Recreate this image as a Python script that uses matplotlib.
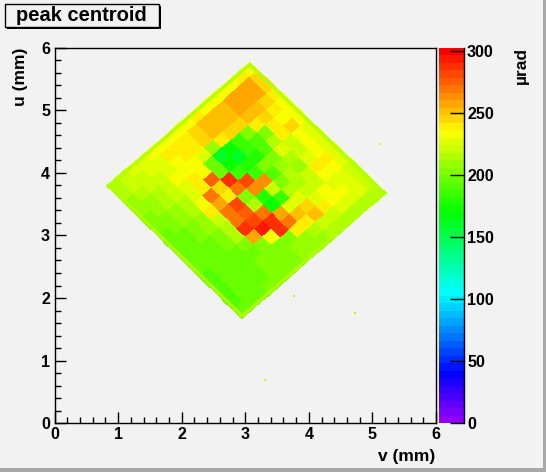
"""Peak centroid map of the crystal, drawn like a ROOT COLZ histogram."""

import colorsys

import matplotlib
matplotlib.use("Agg")
import matplotlib.pyplot as plt
import numpy as np
from matplotlib.colors import BoundaryNorm, ListedColormap
from matplotlib.patches import Polygon, Rectangle
from matplotlib.ticker import MultipleLocator

# sample corners (v, u) in mm: top, right, bottom, left
CORNER_V = [3.07, 5.21, 2.95, 0.83]
CORNER_U = [5.76, 3.68, 1.68, 3.79]

# peak centroid in µrad on a 16x16 grid in the crystal frame:
# rows go from the top-right face to the bottom-left face,
# columns from the top-left face to the bottom-right face
CENTROID = [
    [232, 248, 245, 240, 236, 232, 231, 229, 228, 227, 225, 225, 223, 221, 218, 214],
    [240, 255, 255, 247, 242, 236, 247, 231, 231, 231, 242, 231, 229, 225, 224, 217],
    [236, 255, 255, 252, 245, 238, 240, 221, 221, 225, 240, 235, 228, 231, 225, 217],
    [235, 255, 255, 252, 242, 205, 212, 228, 215, 211, 218, 221, 231, 233, 225, 214],
    [236, 252, 250, 246, 200, 190, 192, 203, 208, 213, 213, 218, 228, 237, 218, 212],
    [235, 250, 251, 246, 185, 182, 180, 200, 190, 200, 214, 228, 247, 252, 220, 212],
    [240, 251, 249, 238, 175, 160, 180, 185, 265, 222, 185, 228, 252, 242, 214, 210],
    [236, 247, 244, 210, 162, 170, 185, 280, 265, 180, 175, 257, 272, 242, 207, 207],
    [236, 242, 240, 230, 198, 195, 285, 272, 200, 215, 267, 290, 287, 202, 206, 206],
    [236, 240, 238, 236, 235, 277, 247, 238, 282, 277, 282, 294, 232, 200, 205, 205],
    [232, 238, 235, 236, 240, 238, 272, 257, 272, 267, 288, 257, 202, 200, 205, 205],
    [232, 230, 228, 232, 230, 225, 232, 238, 218, 212, 212, 201, 198, 200, 202, 205],
    [226, 224, 222, 220, 218, 214, 213, 210, 207, 204, 201, 198, 197, 197, 198, 200],
    [224, 222, 219, 216, 213, 210, 207, 204, 201, 199, 197, 196, 195, 195, 196, 198],
    [222, 219, 215, 211, 207, 204, 201, 199, 197, 196, 195, 194, 194, 194, 195, 196],
    [216, 213, 210, 206, 203, 201, 199, 197, 196, 195, 194, 193, 193, 193, 193, 194],
]
# thin band along the crystal faces
RIM_VALUE = 212

# isolated bins outside the crystal
STRAY_V = [5.12, 3.77, 4.73, 3.31]
STRAY_U = [4.46, 2.03, 1.76, 0.69]
STRAY_VAL = [218, 215, 215, 222]

Z_MIN, Z_MAX = 0, 302.7
Z_TICKS = [0, 50, 100, 150, 200, 250, 300]

W, H = 546, 472
BG = "#f2f2f2"
FONT = ["Liberation Sans", "DejaVu Sans"]


def fx(x):
    return x / W


def fy(y):
    return 1 - y / H


def root_palette(n=50):
    """ROOT 'pretty palette': HLS hue scan violet -> red."""
    cols = []
    for i in range(n):
        hue = 280 - (i + 1) * 280 / n
        cols.append(colorsys.hls_to_rgb(hue / 360, 0.5, 1.0))
    return ListedColormap(cols)


def crystal_mesh(nrow, ncol):
    """Bilinear grid spanning the four corners (top, right, bottom, left)."""
    tv, rv, bv, lv = CORNER_V
    tu, ru, bu, lu = CORNER_U
    p, q = np.meshgrid(np.linspace(0, 1, ncol + 1), np.linspace(0, 1, nrow + 1))
    v = (1 - p) * (1 - q) * tv + p * (1 - q) * rv + p * q * bv + (1 - p) * q * lv
    u = (1 - p) * (1 - q) * tu + p * (1 - q) * ru + p * q * bu + (1 - p) * q * lu
    return v, u


plt.rcParams["font.family"] = FONT
plt.rcParams["font.weight"] = "bold"

fig = plt.figure(figsize=(W / 100, H / 100), dpi=100, facecolor=BG)
ax = fig.add_axes([fx(54.5), fy(423.3), fx(436) - fx(54.5), fy(47.5) - fy(423.3)])
cax = fig.add_axes([fx(439), fy(423.3), fx(464.3) - fx(439), fy(47.5) - fy(423.3)])
ax.set_facecolor(BG)

cmap = root_palette()
norm = BoundaryNorm(np.linspace(Z_MIN, Z_MAX, cmap.N + 1), cmap.N)

z = np.array(CENTROID, dtype=float)
mv, mu = crystal_mesh(*z.shape)
mesh = ax.pcolormesh(mv, mu, z, cmap=cmap, norm=norm, shading="flat",
                     edgecolors="face", linewidth=0.3)

# face rim, clipped to the inside of the crystal outline
rim = Polygon(np.column_stack([CORNER_V, CORNER_U]), closed=True, facecolor="none",
              edgecolor=cmap(norm(RIM_VALUE)), lw=4.5)
ax.add_patch(rim)
rim.set_clip_path(rim)

ax.scatter(STRAY_V, STRAY_U, c=STRAY_VAL, cmap=cmap, norm=norm,
           marker="s", s=3, linewidths=0)

ax.set_xlim(0, 6)
ax.set_ylim(0, 6)
ax.xaxis.set_major_locator(MultipleLocator(1))
ax.yaxis.set_major_locator(MultipleLocator(1))
ax.xaxis.set_minor_locator(MultipleLocator(0.2))
ax.yaxis.set_minor_locator(MultipleLocator(0.2))
ax.tick_params(which="both", direction="in", top=False, right=False, width=1)
ax.tick_params(which="major", length=8, labelsize=11.5)
ax.tick_params(axis="x", which="major", pad=2.5)
ax.tick_params(axis="y", which="major", pad=3.2)
ax.tick_params(which="minor", length=4)
for s in ax.spines.values():
    s.set_linewidth(1)

cb = fig.colorbar(mesh, cax=cax, ticks=Z_TICKS)
cb.outline.set_visible(False)
cax.tick_params(direction="in", length=10, width=1, labelsize=11.5, pad=2)
cax.minorticks_off()
cax.plot([1, 1], [0, 1], color="black", lw=1, transform=cax.transAxes, clip_on=False)

fig.text(fx(435.5), fy(456), "v (mm)", ha="right", va="center", fontsize=12.5)
fig.text(fx(20), fy(47.5), "u (mm)", rotation=90, ha="center", va="top", fontsize=12.5)
fig.text(fx(521.5), fy(47), "µrad", rotation=90, ha="center", va="top", fontsize=12.5)

# title box with shadow, ROOT style
fig.add_artist(Rectangle((fx(7), fy(29)), fx(161) - fx(7), fy(6) - fy(29),
                         transform=fig.transFigure, facecolor="black", edgecolor="none"))
fig.add_artist(Rectangle((fx(5), fy(27)), fx(159) - fx(5), fy(4) - fy(27),
                         transform=fig.transFigure, facecolor=BG, edgecolor="black", lw=1))
fig.text(fx(81.5), fy(15.5), "peak centroid", ha="center", va="center", fontsize=14.5)

# canvas bevel on the bottom and right
fig.add_artist(Rectangle((0, 0), 1, fy(468), transform=fig.transFigure,
                         facecolor="#a8a8a8", edgecolor="none"))
fig.add_artist(Rectangle((fx(543), 0), 1 - fx(543), 1, transform=fig.transFigure,
                         facecolor="#a8a8a8", edgecolor="none"))

fig.savefig("out.png", dpi=100, facecolor=BG)
